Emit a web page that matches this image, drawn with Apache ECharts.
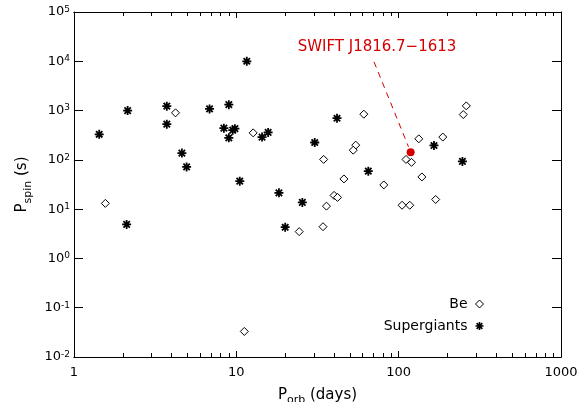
<!DOCTYPE html>
<html>
<head>
<meta charset="utf-8">
<script src="https://cdn.jsdelivr.net/npm/echarts@6/dist/echarts.min.js"></script>
<style>
  html, body { margin: 0; padding: 0; background: #fff; }
  #chart { width: 587px; height: 402px; }
</style>
</head>
<body>
<div id="chart"></div>
<script>
// Be/X-ray binaries (open diamonds): orbital period (d), spin period (s)
var beOrb  = [1.56, 4.22, 12.7, 11.2, 24.4, 34.2, 35.9, 40, 42, 46, 81, 105, 117, 169, 61, 54.4, 52.5, 111, 120, 133, 187, 139, 261, 250, 34.5];
var beSpin = [13.1, 900, 353, 0.033, 3.5, 4.4, 11.5, 19, 17.3, 41, 31, 12, 12, 15.7, 845, 199, 157, 102, 89, 267, 290, 45, 1245, 830, 102];

// supergiant systems (asterisks)
var sgOrb  = [1.43, 2.14, 2.11, 3.73, 3.73, 4.62, 4.94, 6.84, 8.99, 8.38, 8.99, 9.5, 9.8, 11.6, 10.5, 14.4, 15.7, 30.4, 18.3, 20.0, 25.5, 41.7, 65, 165, 247];
var sgSpin = [330, 1000, 4.9, 1230, 530, 137, 72, 1080, 1320, 440, 280, 400, 430, 10000, 37, 290, 360, 225, 21.4, 4.3, 13.7, 700, 59, 196, 93];

// the new source and its pointer
var srcName = 'SWIFT J1816.7\u22121613';
var srcOrb = 118.5, srcSpin = 143;
var pointerFrom = [70.5, 9730];
var pointerTo = [115, 184];

var xMajor = [1, 10, 100, 1000];
var yMajor = [0.01, 0.1, 1, 10, 100, 1000, 10000, 100000];

var xMinor = [];
[1, 10, 100].forEach(function (d) {
    for (var k = 2; k <= 9; k++) xMinor.push(k * d);
});

function zip(a, b) { return a.map(function (v, i) { return [v, b[i]]; }); }

var FONT = 'DejaVu Sans';
var RED = '#d40000';
var star = 'path://M0 8L20 8L20 12L0 12Z M8 0L12 0L12 20L8 20Z ' +
    'M1.5 4.3L4.3 1.5L18.5 15.7L15.7 18.5Z M15.7 1.5L18.5 4.3L4.3 18.5L1.5 15.7Z';

function xAxisDef(pos, ticks, len, opts) {
    var ax = {
        type: 'log', logBase: 10, min: 1, max: 1000, position: pos,
        axisLine: { show: true, onZero: false, lineStyle: { color: '#000', width: 1 } },
        axisTick: { show: true, inside: true, length: len, customValues: ticks, lineStyle: { color: '#000' } },
        axisLabel: { show: false },
        splitLine: { show: false }
    };
    return Object.assign(ax, opts || {});
}

var chart = echarts.init(document.getElementById('chart'), null, { renderer: 'canvas' });

chart.setOption({
    animation: false,
    backgroundColor: '#fff',
    grid: { left: 74, right: 26, top: 12, bottom: 45, outerBoundsMode: 'none' },
    xAxis: [
        xAxisDef('bottom', xMajor, 6, {
            name: 'P{sub|orb} (days)',
            nameLocation: 'middle',
            nameGap: 23,
            nameTextStyle: {
                fontFamily: FONT, fontSize: 15, color: '#000', lineHeight: 22,
                rich: { sub: { fontFamily: FONT, fontSize: 11, lineHeight: 11, verticalAlign: 'bottom', color: '#000' } }
            },
            axisLabel: {
                show: true, customValues: xMajor, margin: 9,
                fontFamily: FONT, fontSize: 13, color: '#000',
                formatter: function (v) { return String(Math.round(v)); }
            }
        }),
        xAxisDef('bottom', xMinor, 4),
        xAxisDef('top', xMajor, 6),
        xAxisDef('top', xMinor, 4)
    ],
    yAxis: [
        {
            type: 'log', logBase: 10, min: 0.01, max: 100000, position: 'left',
            name: 'P{sub|spin} (s)',
            nameLocation: 'middle',
            nameGap: 40,
            nameTextStyle: {
                fontFamily: FONT, fontSize: 15, color: '#000', lineHeight: 22,
                rich: { sub: { fontFamily: FONT, fontSize: 11, lineHeight: 11, verticalAlign: 'bottom', color: '#000' } }
            },
            axisLine: { show: true, onZero: false, lineStyle: { color: '#000', width: 1 } },
            axisTick: { show: true, inside: true, length: 9, customValues: yMajor, lineStyle: { color: '#000' } },
            axisLabel: {
                customValues: yMajor, margin: 4, color: '#000',
                formatter: function (v) {
                    return '{b|10}{e|' + Math.round(Math.log10(v)) + '}';
                },
                rich: {
                    b: { fontFamily: FONT, fontSize: 13, lineHeight: 14, color: '#000' },
                    e: { fontFamily: FONT, fontSize: 9, lineHeight: 9, verticalAlign: 'top', color: '#000' }
                }
            },
            splitLine: { show: false }
        },
        {
            type: 'log', logBase: 10, min: 0.01, max: 100000, position: 'right',
            axisLine: { show: true, onZero: false, lineStyle: { color: '#000', width: 1 } },
            axisTick: { show: true, inside: true, length: 9, customValues: yMajor, lineStyle: { color: '#000' } },
            axisLabel: { show: false },
            splitLine: { show: false }
        }
    ],
    legend: {
        data: ['Be', 'Supergiants'],
        orient: 'vertical',
        align: 'right',
        right: 98,
        top: 292,
        itemWidth: 8,
        itemHeight: 8,
        itemGap: 8,
        selectedMode: false,
        itemStyle: { borderWidth: 1 },
        textStyle: { fontFamily: FONT, fontSize: 14, color: '#000', padding: [0, 3, 0, 0] }
    },
    series: [
        {
            name: 'Be', type: 'scatter',
            symbol: 'diamond', symbolSize: 8,
            itemStyle: { color: '#fff', borderColor: '#000', borderWidth: 1, opacity: 1 },
            data: zip(beOrb, beSpin),
            z: 3
        },
        {
            name: 'Supergiants', type: 'scatter',
            symbol: star, symbolSize: 9,
            itemStyle: { color: '#000', opacity: 1 },
            data: zip(sgOrb, sgSpin),
            z: 4
        },
        {
            name: srcName, type: 'scatter',
            symbol: 'circle', symbolSize: 8,
            itemStyle: { color: RED, opacity: 1 },
            data: [[srcOrb, srcSpin]],
            z: 5,
            markLine: {
                silent: true,
                symbol: 'none',
                label: { show: false },
                lineStyle: { color: RED, type: [6, 5], width: 1 },
                data: [[{ coord: pointerFrom }, { coord: pointerTo }]]
            }
        }
    ],
    graphic: [{
        type: 'text',
        x: 377, y: 47,
        style: {
            text: srcName, fill: RED,
            fontFamily: FONT, fontSize: 15,
            align: 'center', verticalAlign: 'middle'
        }
    }]
});
</script>
</body>
</html>
